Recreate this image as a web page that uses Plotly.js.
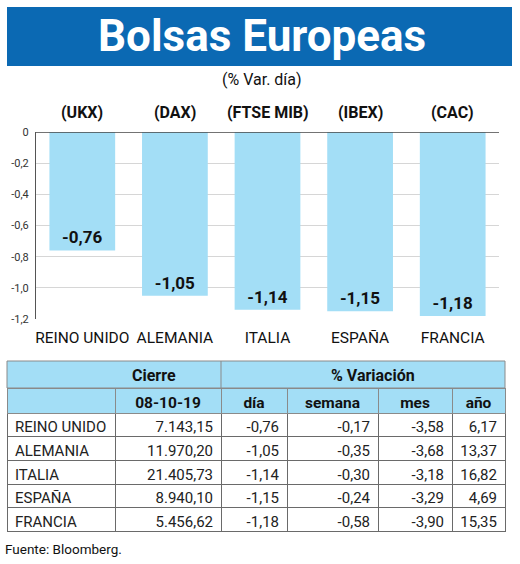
<!DOCTYPE html>
<html>
<head>
<meta charset="utf-8">
<script src="https://cdn.plot.ly/plotly-3.0.1.min.js"></script>
<style>
html,body{margin:0;padding:0;background:#fff;}
#chart{width:520px;height:564px;}
</style>
</head>
<body>
<div id="chart"></div>
<script>
// ---- data ----
const countries = ["REINO UNIDO", "ALEMANIA", "ITALIA", "ESPAÑA", "FRANCIA"];
const tickers = ["(UKX)", "(DAX)", "(FTSE MIB)", "(IBEX)", "(CAC)"];
const cierre = [7143.15, 11970.20, 21405.73, 8940.10, 5456.62];
const varDia = [-0.76, -1.05, -1.14, -1.15, -1.18];
const varSemana = [-0.17, -0.35, -0.30, -0.24, -0.58];
const varMes = [-3.58, -3.68, -3.18, -3.29, -3.90];
const varAno = [6.17, 13.37, 16.82, 4.69, 15.35];
const yTickVals = [0, -0.2, -0.4, -0.6, -0.8, -1.0, -1.2];
const yTickText = ["0", "-0,2", "-0,4", "-0,6", "-0,8", "-1,0", "-1,2"];
const tableHeader = ["", "08-10-19", "día", "semana", "mes", "año"];
const groupHeaders = ["Cierre", "% Variación"];

// ---- helpers ----
const W = 520, H = 564;
const px = v => v / W;
const py = v => 1 - v / H;
function fmtEs(v, thousands) {
  const neg = v < 0;
  let [ip, dp] = Math.abs(v).toFixed(2).split('.');
  if (thousands) ip = ip.replace(/\B(?=(\d{3})+(?!\d))/g, '.');
  return (neg ? '-' : '') + ip + ',' + dp;
}
const noWrap = s => s.replace(/ /g, '\u00a0');

// ---- style ----
const FONT = 'Roboto, "Liberation Sans", sans-serif';
const BLUE = '#0b69b3';
const LIGHT = '#a3def6';

const bar = {
  type: 'bar',
  x: countries,
  y: varDia,
  marker: {color: LIGHT},
  texttemplate: '%{y:.2f}',
  textposition: 'inside',
  insidetextanchor: 'end',
  textangle: 0,
  constraintext: 'none',
  textfont: {family: FONT, size: 17, color: '#111', weight: 'bold'},
  hoverinfo: 'skip',
  xaxis: 'x', yaxis: 'y'
};

const colW = [108, 106, 66, 91, 74, 53];
const table = {
  type: 'table',
  domain: {x: [px(7), px(505)], y: [py(536), py(388)]},
  columnwidth: colW,
  header: {
    values: tableHeader,
    align: 'center',
    height: 25,
    fill: {color: LIGHT},
    line: {color: '#8a8a8a', width: 1},
    font: {family: FONT, size: 15.5, color: '#111', weight: 'bold'}
  },
  cells: {
    values: [
      countries.map(noWrap),
      cierre.map(v => fmtEs(v, true)),
      varDia.map(v => fmtEs(v)),
      varSemana.map(v => fmtEs(v)),
      varMes.map(v => fmtEs(v)),
      varAno.map(v => fmtEs(v))
    ],
    align: ['left', 'right', 'right', 'right', 'right', 'right'],
    height: 23.7,
    fill: {color: '#fff'},
    line: {color: '#6a6a6a', width: 1},
    font: {family: FONT, size: 15, color: '#222'}
  }
};

const annotations = [
  {text: 'Bolsas Europeas', xref: 'paper', yref: 'paper', x: px(262), y: py(36),
   xanchor: 'center', yanchor: 'middle', showarrow: false,
   font: {family: FONT, size: 44, color: '#fff', weight: 'bold'}},
  {text: '(% Var. día)', xref: 'paper', yref: 'paper', x: px(262), y: py(80),
   xanchor: 'center', yanchor: 'middle', showarrow: false,
   font: {family: FONT, size: 16, color: '#111'}},
  {text: 'Fuente: Bloomberg.', xref: 'paper', yref: 'paper', x: px(3), y: py(549),
   xanchor: 'left', yanchor: 'middle', showarrow: false,
   font: {family: FONT, size: 13.5, color: '#111'}},
  {text: groupHeaders[0], xref: 'paper', yref: 'paper', x: px(154), y: py(375),
   xanchor: 'center', yanchor: 'middle', showarrow: false,
   font: {family: FONT, size: 16, color: '#111', weight: 'bold'}},
  {text: groupHeaders[1], xref: 'paper', yref: 'paper', x: px(373), y: py(375),
   xanchor: 'center', yanchor: 'middle', showarrow: false,
   font: {family: FONT, size: 16, color: '#111', weight: 'bold'}}
];
tickers.forEach((t, i) => {
  annotations.push({text: t, xref: 'x', yref: 'paper', x: countries[i], y: py(112),
    xanchor: 'center', yanchor: 'middle', showarrow: false,
    font: {family: FONT, size: 16, color: '#111', weight: 'bold'}});
});

const shapes = [
  {type: 'rect', xref: 'paper', yref: 'paper', x0: px(7), x1: px(512), y0: py(66), y1: py(7),
   fillcolor: BLUE, line: {width: 0}, layer: 'below'},
  {type: 'rect', xref: 'paper', yref: 'paper', x0: px(7), x1: px(505), y0: py(388), y1: py(361),
   fillcolor: LIGHT, line: {color: '#8a8a8a', width: 1}},
  {type: 'line', xref: 'paper', yref: 'paper', x0: px(221), x1: px(221), y0: py(388), y1: py(361),
   line: {color: '#8a8a8a', width: 1}},
  {type: 'line', xref: 'paper', yref: 'y', x0: px(36), x1: px(499), y0: 0, y1: 0,
   line: {color: '#444', width: 1.5}}
];

const layout = {
  width: W, height: H,
  margin: {l: 0, r: 0, t: 0, b: 0},
  paper_bgcolor: '#fff', plot_bgcolor: '#fff',
  separators: ',.',
  showlegend: false,
  bargap: 0.29,
  xaxis: {
    domain: [px(36), px(499)],
    showgrid: false, zeroline: false, showline: false,
    tickangle: 0,
    ticks: 'outside', ticklen: 4, tickcolor: 'rgba(0,0,0,0)',
    tickfont: {family: FONT, size: 15.5, color: '#111'},
    fixedrange: true
  },
  yaxis: {
    domain: [py(319), py(132)],
    range: [-1.2, 0],
    tickvals: yTickVals, ticktext: yTickText,
    showgrid: true, gridcolor: '#d6d6d6', gridwidth: 1,
    zeroline: false,
    showline: true, linecolor: '#555', linewidth: 1,
    ticks: 'outside', ticklen: 4, tickcolor: 'rgba(0,0,0,0)',
    tickfont: {family: FONT, size: 11, color: '#333'},
    fixedrange: true
  },
  shapes: shapes,
  annotations: annotations
};

Plotly.newPlot('chart', [bar, table], layout, {staticPlot: true, displayModeBar: false});
</script>
</body>
</html>
